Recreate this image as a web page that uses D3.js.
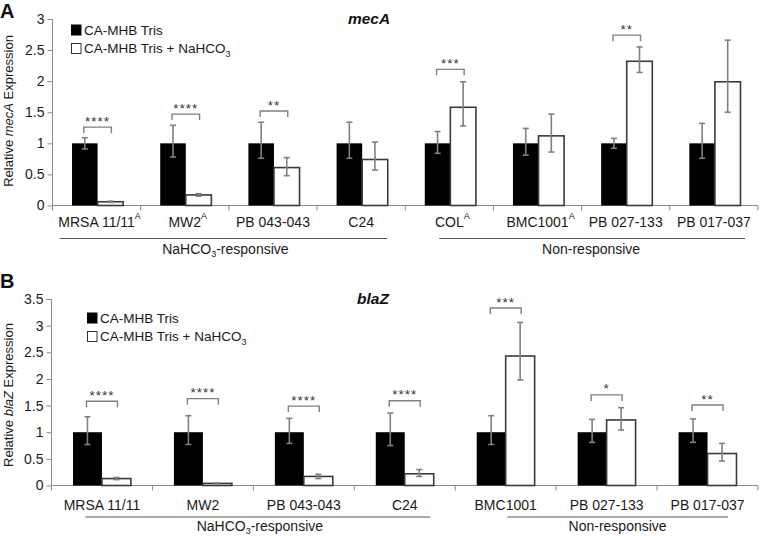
<!DOCTYPE html>
<html><head><meta charset="utf-8">
<script src="https://cdn.jsdelivr.net/npm/d3@7"></script>
<style>body{margin:0;background:#fff}svg{display:block;font-family:"Liberation Sans",Arial,sans-serif}</style>
</head><body><svg id="c" width="760" height="536"></svg>
<script>
// ---------- DATA ----------
const seriesNames = ["CA-MHB Tris", "CA-MHB Tris + NaHCO"];
// Panel A: mecA
const catsA = ["MRSA 11/11","MW2","PB 043-043","C24","COL","BMC1001","PB 027-133","PB 017-037"];
const supA  = ["A","A","","","A","A","",""];
const trisA    = [1,1,1,1,1,1,1,1];
const trisA_lo = [0.91,0.78,0.76,0.76,0.84,0.81,0.92,0.76];
const trisA_hi = [1.09,1.29,1.34,1.34,1.19,1.24,1.08,1.32];
const bicA     = [0.06,0.17,0.61,0.74,1.58,1.12,2.32,1.99];
const bicA_lo  = [0.05,0.15,0.48,0.57,1.28,0.86,2.14,1.50];
const bicA_hi  = [0.07,0.19,0.77,1.02,1.99,1.47,2.55,2.66];
const sigA     = ["****","****","**","","***","","**",""];
const sigA_at  = [1.26,1.47,1.52,0,2.19,0,2.74,0];
const ticksA   = [0,0.5,1,1.5,2,2.5,3];
// Panel B: blaZ
const catsB = ["MRSA 11/11","MW2","PB 043-043","C24","BMC1001","PB 027-133","PB 017-037"];
const supB  = ["","","","","","",""];
const trisB    = [1,1,1,1,1,1,1];
const trisB_lo = [0.77,0.77,0.79,0.75,0.77,0.81,0.81];
const trisB_hi = [1.29,1.31,1.26,1.36,1.31,1.24,1.25];
const bicB     = [0.13,0.04,0.17,0.22,2.43,1.23,0.60];
const bicB_lo  = [0.11,0.03,0.13,0.17,1.98,1.04,0.46];
const bicB_hi  = [0.15,0.05,0.21,0.30,3.06,1.46,0.79];
const sigB     = ["****","****","****","****","***","*","**"];
const sigB_at  = [1.58,1.63,1.49,1.59,3.33,1.70,1.51];
const ticksB   = [0,0.5,1,1.5,2,2.5,3,3.5];
// groups: [label, first index, last index]
const groupsA = [["NaHCO",0,3],["Non-responsive",4,7]];
const groupsB = [["NaHCO",0,3],["Non-responsive",4,6]];

// ---------- DRAW ----------
const svg = d3.select("#c");
const AX = "#8a8a8a", ERR = "#808080", TXT = "#1a1a1a";

function panel(o){
  const g = svg.append("g");
  const x = d3.scaleBand().domain(o.cats).range([o.x0, o.x1]).padding(0);
  const y = d3.scaleLinear().domain([0, o.ymax]).range([o.y0, o.ytop]);
  const bw = x.bandwidth(), w = bw * o.barFrac;
  const cx = c => x(c) + bw/2 + o.shift;

  // y axis
  const ya = g.append("g").attr("transform",`translate(${o.x0},0)`)
    .call(d3.axisLeft(y).tickValues(o.ticks).tickSize(5).tickPadding(3).tickFormat(d3.format("")));
  ya.select(".domain").attr("stroke",AX).attr("d",`M0,${y(0)}V${y(o.ymax)}`);
  ya.selectAll(".tick line").attr("stroke",AX);
  ya.selectAll(".tick text").attr("fill",TXT).style("font-size","14px");

  // x axis line + band boundary ticks
  g.append("line").attr("x1",o.x0).attr("x2",o.x1).attr("y1",y(0)).attr("y2",y(0)).attr("stroke",AX);
  const bounds = o.cats.map(c=>x(c)).concat([o.x1]);
  g.selectAll(".bt").data(bounds).join("line").attr("x1",d=>d).attr("x2",d=>d)
    .attr("y1",y(0)).attr("y2",y(0)+5).attr("stroke",AX);

  // bars
  g.selectAll(".b1").data(o.cats).join("rect")
    .attr("x",c=>cx(c)-w).attr("width",w)
    .attr("y",(c,i)=>y(o.s1[i])).attr("height",(c,i)=>y(0)-y(o.s1[i])).attr("fill","#000");
  g.selectAll(".b2").data(o.cats).join("rect")
    .attr("x",c=>cx(c)).attr("width",w)
    .attr("y",(c,i)=>y(o.s2[i])).attr("height",(c,i)=>y(0)-y(o.s2[i]))
    .attr("fill","#fff").attr("stroke","#3a3a3a").attr("stroke-width",1.6);

  // error bars
  function err(centerFn, lo, hi){
    const eg = g.append("g").attr("stroke",ERR).attr("stroke-width",1.6).attr("fill","none");
    o.cats.forEach((c,i)=>{
      const xc = centerFn(c);
      eg.append("line").attr("x1",xc).attr("x2",xc).attr("y1",y(lo[i])).attr("y2",y(hi[i]));
      eg.append("line").attr("x1",xc-3).attr("x2",xc+3).attr("y1",y(lo[i])).attr("y2",y(lo[i]));
      eg.append("line").attr("x1",xc-3).attr("x2",xc+3).attr("y1",y(hi[i])).attr("y2",y(hi[i]));
    });
  }
  err(c=>cx(c)-w/2, o.s1lo, o.s1hi);
  err(c=>cx(c)+w/2, o.s2lo, o.s2hi);

  // significance brackets
  o.cats.forEach((c,i)=>{
    if(!o.sig[i]) return;
    const yb = y(o.sigAt[i]), xa = cx(c)-w/2-1, xb = cx(c)+w/2+1;
    g.append("path").attr("d",`M${xa},${yb+6}V${yb}H${xb}V${yb+6}`)
      .attr("fill","none").attr("stroke",ERR).attr("stroke-width",1.4);
    g.append("text").attr("x",(xa+xb)/2).attr("y",yb-1.5).attr("text-anchor","middle")
      .style("font-size","13.5px").style("letter-spacing","1px").attr("fill","#333").text(o.sig[i]);
  });

  // category labels
  o.cats.forEach((c,i)=>{
    const t = g.append("text").attr("x",x(c)+bw/2 + (o.sup[i]?3:0)).attr("y",o.labelY)
      .attr("text-anchor","middle").attr("fill",TXT).style("font-size","14px");
    t.append("tspan").text(c);
    if(o.sup[i]) t.append("tspan").attr("dy",-8).style("font-size","9px").text(o.sup[i]);
  });

  // group lines + labels
  o.groups.forEach((gr,k)=>{
    const xa = x(o.cats[gr[1]]) + o.gOff[k][0];
    const xb = x(o.cats[gr[2]]) + bw + o.gOff[k][1];
    g.append("line").attr("x1",xa).attr("x2",xb).attr("y1",o.gLineY).attr("y2",o.gLineY)
      .attr("stroke","#555").attr("stroke-width",1);
    const t = g.append("text").attr("x",(xa+xb)/2+o.gTxtShift[k]).attr("y",o.gLabelY)
      .attr("text-anchor","middle").attr("fill",TXT).style("font-size","14px");
    if(gr[0]==="NaHCO"){
      t.append("tspan").text("NaHCO");
      t.append("tspan").attr("dy",3).style("font-size","9px").text("3");
      t.append("tspan").attr("dy",-3).text("-responsive");
    } else t.text(gr[0]);
  });

  // legend
  [0,1].forEach(k=>{
    const ly = o.legY + k*18.5;
    g.append("rect").attr("x",o.legX+0.5).attr("y",ly-5).attr("width",9.5).attr("height",10)
      .attr("fill",k?"#fff":"#000").attr("stroke",k?"#333":"#000").attr("stroke-width",1);
    const t = g.append("text").attr("x",o.legX+13).attr("y",ly+4.5).attr("fill",TXT).style("font-size","13.5px");
    t.append("tspan").text(seriesNames[k]);
    if(k){ t.append("tspan").attr("dy",3.5).style("font-size","9px").text("3"); }
  });

  // title
  g.append("text").attr("x",o.titleX).attr("y",o.titleY).attr("text-anchor","middle")
    .style("font-size","15.5px").style("font-weight","bold").style("font-style","italic").attr("fill","#111").text(o.gene);

  // panel letter
  g.append("text").attr("x",0).attr("y",o.letterY).style("font-size","20px").style("font-weight","bold")
    .attr("fill","#111").text(o.letter);

  // y title
  const yt = g.append("text").attr("transform",`translate(13,${o.yTitleY}) rotate(-90)`)
    .attr("text-anchor","middle").attr("fill",TXT).style("font-size","13px");
  yt.append("tspan").text("Relative ");
  yt.append("tspan").style("font-style","italic").text(o.gene);
  yt.append("tspan").text(" Expression");
}

panel({cats:catsA, sup:supA, s1:trisA, s1lo:trisA_lo, s1hi:trisA_hi, s2:bicA, s2lo:bicA_lo, s2hi:bicA_hi,
  sig:sigA, sigAt:sigA_at, ticks:ticksA, ymax:3, x0:52.5, x1:758, y0:205.5, ytop:19, barFrac:0.29, shift:1,
  labelY:227, groups:groupsA, gOff:[[7,-18],[34,-13]], gTxtShift:[2,-1], gLineY:238.5, gLabelY:254,
  legX:71, legY:30, titleX:369, titleY:24, letter:"A", letterY:18, yTitleY:111, gene:"mecA"});

panel({cats:catsB, sup:supB, s1:trisB, s1lo:trisB_lo, s1hi:trisB_hi, s2:bicB, s2lo:bicB_lo, s2hi:bicB_hi,
  sig:sigB, sigAt:sigB_at, ticks:ticksB, ymax:3.5, x0:51.5, x1:758, y0:485.5, ytop:299, barFrac:0.287, shift:0,
  labelY:510, groups:groupsB, gOff:[[34,-25],[52,-30]], gTxtShift:[2,0], gLineY:517, gLabelY:530.5,
  legX:87, legY:318, titleX:373, titleY:304, letter:"B", letterY:288, yTitleY:395, gene:"blaZ"});
</script></body></html>
